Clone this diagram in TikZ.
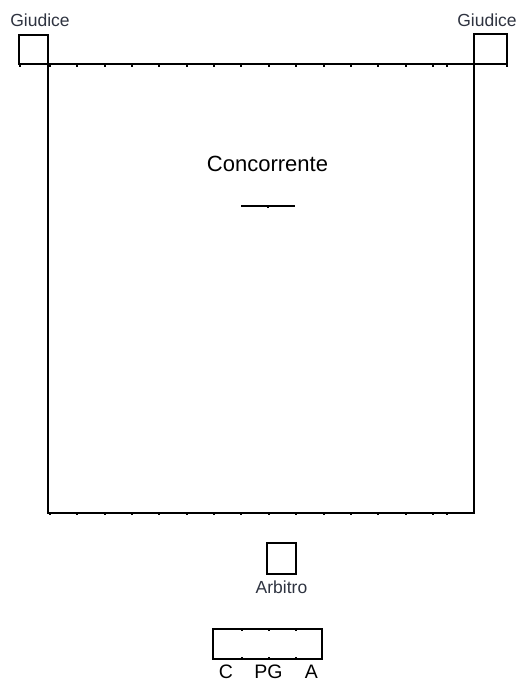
\documentclass[tikz,border=0pt]{standalone}
\usepackage{fontspec}
\setmainfont{Liberation Sans}
\definecolor{lblgray}{HTML}{2E3340}
\begin{document}
\begin{tikzpicture}[x=1pt,y=-1pt,
  line width=1.8pt, line cap=rect,
  box/.style={draw=black, line width=1.8pt, inner sep=0pt, outer sep=0pt},
  smalllbl/.style={font=\fontsize{17.5}{18}\selectfont, text=lblgray, inner sep=0pt},
  biglbl/.style={font=\fontsize{22}{23}\selectfont, text=black, inner sep=0pt},
  baselbl/.style={font=\fontsize{19.5}{20}\selectfont, text=black, inner sep=0pt, anchor=base},
  tick/.style={fill=black}
]
\useasboundingbox (0,0) rectangle (518,683);
% Giudice boxes
\node[box, minimum width=29pt, minimum height=29pt, anchor=north west] (gl) at (19,35) {};
\node[box, minimum width=33pt, minimum height=30pt, anchor=north west] (gr) at (474,34) {};
\node[smalllbl] (tgl) at (40,20) {Giudice};
\node[smalllbl] (tgr) at (487,20) {Giudice};
% main field
\coordinate (tl) at (48,64);
\coordinate (tr) at (474,64);
\coordinate (bl) at (48,513);
\coordinate (br) at (474,513);
\draw (gl.south west) -- (gr.south east);
\draw (tl) -- (bl) -- (br) -- (tr);
% ticks
\foreach \k in {0,...,14} {
  \fill[tick] ({50+27.35*\k-1},64.5) rectangle ++(2,2);
  \fill[tick] ({50+27.35*\k-1},512.5) rectangle ++(2,2);
}
\fill[tick] (446,64.5) rectangle ++(2,2);
\fill[tick] (446,512.5) rectangle ++(2,2);
\fill[tick] (19,64.5) rectangle ++(2,2);
\fill[tick] (506,64.5) rectangle ++(2,2);
% Concorrente
\node[biglbl] (conc) at (267.5,164) {Concorrente};
\coordinate (ls) at (241,206);
\coordinate (le) at (295,206);
\draw[line cap=butt] (ls) -- (le);
\fill[tick] (267,206) rectangle ++(2,1.5);
% Arbitro
\node[box, minimum width=29pt, minimum height=31pt, anchor=north west] (arb) at (267,543) {};
\node[smalllbl] (tarb) at (281.5,587) {Arbitro};
% bottom box
\node[box, minimum width=109pt, minimum height=30pt, anchor=north west] (bb) at (213,629) {};
\foreach \xx in {241.5,268.5,296} {
  \fill[tick] (\xx-1,629.5) rectangle ++(2,1.5);
  \fill[tick] (\xx-1,657) rectangle ++(2,1.5);
}
\node[baselbl] (tc) at (226,678.5) {C};
\node[baselbl] (tpg) at (268.5,678.5) {PG};
\node[baselbl] (ta) at (311.5,678.5) {A};
\end{tikzpicture}
\end{document}
